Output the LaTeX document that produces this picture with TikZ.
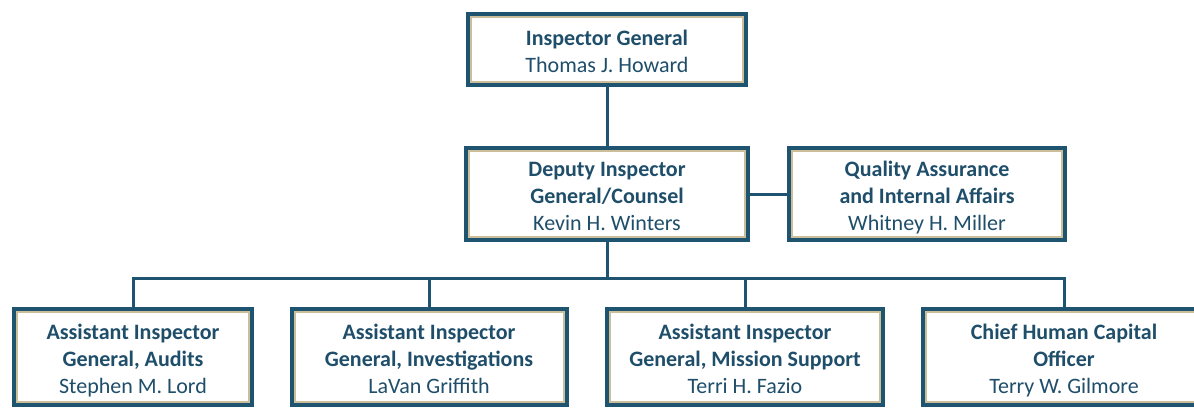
\documentclass[tikz,border=0pt]{standalone}
\usepackage		 {fontspec}
\setmainfont{Carlito}
\usepackage		 {xcolor   }
\usepackage		 {tikz	  }
\usetikzlibrary{calc,positioning}

\definecolor{oigteal}{HTML}{1E5470}
\definecolor{oigtan}{HTML}{CBBE98}
\definecolor{oigtext}{HTML}{1F4E6A}
% first line of a box, with some air above it
\newcommand{\boxhead}[1]{\rule{0pt}{27pt}\textbf{#1}}

\begin{document}
\begin{tikzpicture}[x=1pt,y=-1pt]
  \tikzset{
  box/.style={rectangle,draw=oigteal,line width=4pt,fill=white,
    text=oigtext,align=center,inner sep=0pt,
    font=\fontsize{22}{27}\selectfont,
    execute at end node=\strut,
    path picture={\draw[oigtan,line width=2pt]
      ([shift={(3pt,-3pt)}]path picture bounding box.north west) rectangle
      ([shift={(-3pt,3pt)}]path picture bounding box.south east);}},
  link/.style={draw=oigteal,line width=3pt},
  }
  \useasboundingbox (0,0) rectangle (1194,407);
  % the boxes
  \node[box,minimum width=278pt,minimum height=71pt] (ig) at (607,49.5)
    {\boxhead{Inspector General}\\Thomas J. Howard};
  \node[box,minimum width=282pt,minimum height=92pt] (dep) at (607,194)
    {\boxhead{Deputy Inspector}\\\textbf{General/Counsel}\\Kevin H. Winters};
  \node[box,minimum width=276pt,minimum height=92pt] (qa) at (927,194)
    {\boxhead{Quality Assurance}\\\textbf{and Internal Affairs}\\Whitney H. Miller};

  \node[box,minimum width=238pt,minimum height=96pt] (aud) at (133,357)
    {\boxhead{Assistant Inspector}\\\textbf{General, Audits}\\Stephen M. Lord};
  \node[box,minimum width=275pt,minimum height=96pt] (inv) at (429,357)
    {\boxhead{Assistant Inspector}\\\textbf{General, Investigations}\\LaVan Griffith};
  \node[box,minimum width=276pt,minimum height=96pt] (mis) at (745,357)
    {\boxhead{Assistant Inspector}\\\textbf{General, Mission Support}\\Terri H. Fazio};
  \node[box,minimum width=282pt,minimum height=96pt] (hc) at (1064,357)
    {\boxhead{Chief Human Capital}\\\textbf{Officer}\\Terry W. Gilmore};

  % the connections between the boxes
  \coordinate (bus) at (607,278);
  \draw[link] (ig) -- (dep);
  \draw[link] (dep) -- (qa);
  \draw[link] (dep) -- (bus);
  \draw[link] (bus) -| (aud);
  \draw[link] (bus) -| (inv);
  \draw[link] (bus) -| (mis);
  \draw[link] (bus) -| (hc);
\end{tikzpicture}
\end{document}
